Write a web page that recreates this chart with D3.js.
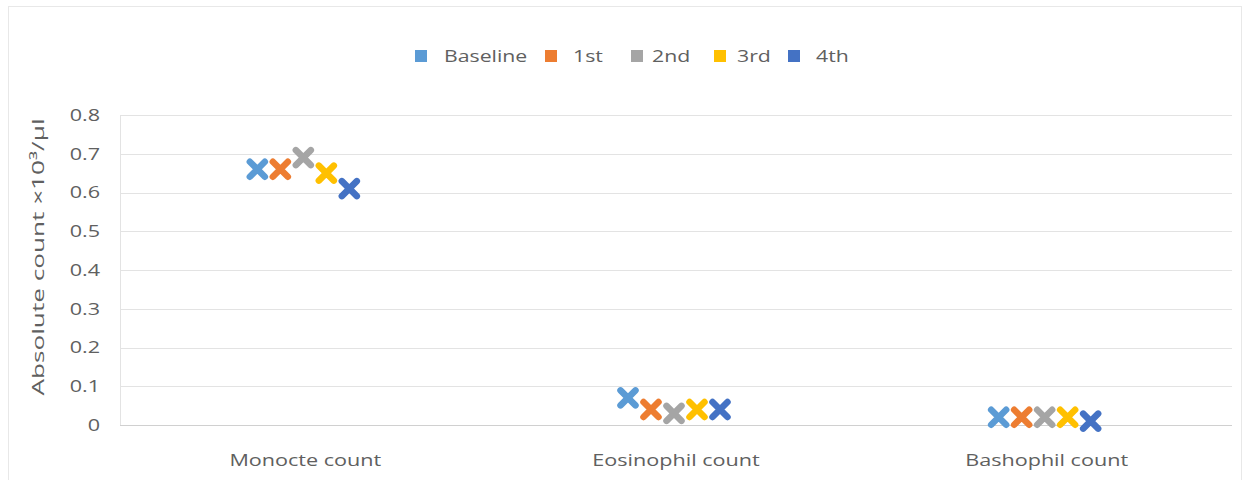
<!DOCTYPE html>
<html>
<head>
<meta charset="utf-8">
<script src="https://cdn.jsdelivr.net/npm/d3@7"></script>
<style>
  body { margin: 0; background: #fff; }
  text { font-family: "Open Sans", sans-serif; fill: #606060; }
</style>
</head>
<body>
<div class="chart"></div>
<script>
const categories = ['Monocte count', 'Eosinophil count', 'Bashophil count'];
const seriesNames = ['Baseline', '1st', '2nd', '3rd', '4th'];
const baseline = [0.66, 0.07, 0.02];
const first = [0.66, 0.04, 0.02];
const second = [0.69, 0.03, 0.02];
const third = [0.65, 0.04, 0.02];
const fourth = [0.61, 0.04, 0.01];
const yTicks = [0, 0.1, 0.2, 0.3, 0.4, 0.5, 0.6, 0.7, 0.8];
const colors = ['#5b9bd5', '#ed7d31', '#a5a5a5', '#ffc000', '#4472c4'];

const series = [baseline, first, second, third, fourth];
const w = 1244, h = 480;
const plotL = 120, plotR = 1232, plotT = 115, plotB = 425;
const fs = 17, sx = 1.27; // text looks stretched sideways in the source

const svg = d3.select('div.chart')
  .append('svg')
  .attr('width', w)
  .attr('height', h);

// chart frame
svg.append('rect')
  .attr('x', 8.5).attr('y', 6.5)
  .attr('width', 1233).attr('height', 480)
  .attr('fill', 'none')
  .attr('stroke', '#e8e8e8');

const xScale = d3.scaleBand()
  .domain(categories)
  .range([plotL, plotR]);
const offset = d3.scalePoint()
  .domain(seriesNames)
  .range([-46, 46]);
const yScale = d3.scaleLinear()
  .domain([0, 0.8])
  .range([plotB, plotT]);

// grid
svg.append('g')
  .selectAll('line')
  .data(yTicks)
  .enter()
  .append('line')
  .attr('x1', plotL).attr('x2', plotR)
  .attr('y1', d => Math.round(yScale(d)) + 0.5)
  .attr('y2', d => Math.round(yScale(d)) + 0.5)
  .attr('stroke', (d) => d == 0 ? '#d0d0d0' : '#e3e3e3')
  .attr('stroke-width', 1);

svg.append('line')
  .attr('x1', plotL + 0.5).attr('x2', plotL + 0.5)
  .attr('y1', plotT).attr('y2', plotB)
  .attr('stroke', '#e3e3e3');

const yAxis = d3.axisLeft(yScale)
  .tickValues(yTicks)
  .tickSize(0)
  .tickFormat(d => d == 0 ? '0' : d3.format('.1f')(d));
const gy = svg.append('g')
  .attr('transform', 'translate(' + plotL + ',0)')
  .call(yAxis);
gy.select('.domain').remove();
gy.selectAll('text')
  .attr('font-size', fs).attr('font-family', null).attr('fill', null)
  .attr('x', -20 / sx)
  .attr('transform', 'scale(' + sx + ',1)');

const xAxis = d3.axisBottom(xScale).tickSize(0).tickPadding(29);
const gx = svg.append('g')
  .attr('transform', 'translate(0,' + plotB + ')')
  .call(xAxis);
gx.select('.domain').remove();
gx.selectAll('text')
  .attr('font-size', fs).attr('font-family', null).attr('fill', null)
  .attr('transform', 'scale(' + sx + ',1)');

// y title
svg.append('text')
  .attr('transform', 'translate(44,' + 257 + ') rotate(-90)')
  .attr('text-anchor', 'middle')
  .attr('font-size', fs)
  .attr('textLength', 277)
  .attr('lengthAdjust', 'spacingAndGlyphs')
  .text('Absolute count  ×10³/µl');

// markers
const pts = [];
series.forEach((vals, si) => {
  vals.forEach((v, ci) => {
    pts.push({s: seriesNames[si], c: categories[ci], v: v, color: colors[si]});
  });
});
const mk = svg.append('g').selectAll('g')
  .data(pts)
  .enter()
  .append('g')
  .attr('transform', d => 'translate(' + (xScale(d.c) + xScale.bandwidth() / 2 - 2 + offset(d.s)) + ',' + yScale(d.v) + ')');
const r = 7.5;
mk.append('path')
  .attr('d', 'M' + (-r) + ',' + (-r) + 'L' + r + ',' + r + 'M' + (-r) + ',' + r + 'L' + r + ',' + (-r))
  .attr('stroke', d => d.color)
  .attr('stroke-width', 6.5)
  .attr('stroke-linecap', 'round')
  .attr('fill', 'none');

// legend
const legendSq = [415, 545, 631, 714, 788];
const legendTx = [444, 573, 652, 737, 816];
const lg = svg.append('g').selectAll('g')
  .data(seriesNames)
  .enter()
  .append('g');
lg.append('rect')
  .attr('x', (d, i) => legendSq[i]).attr('y', 50)
  .attr('width', 12).attr('height', 12)
  .attr('fill', (d, i) => colors[i]);
lg.append('text')
  .attr('transform', (d, i) => 'translate(' + legendTx[i] + ',62) scale(' + (sx - 0.02) + ',1)')
  .attr('font-size', fs)
  .text(d => d);
</script>
</body>
</html>
